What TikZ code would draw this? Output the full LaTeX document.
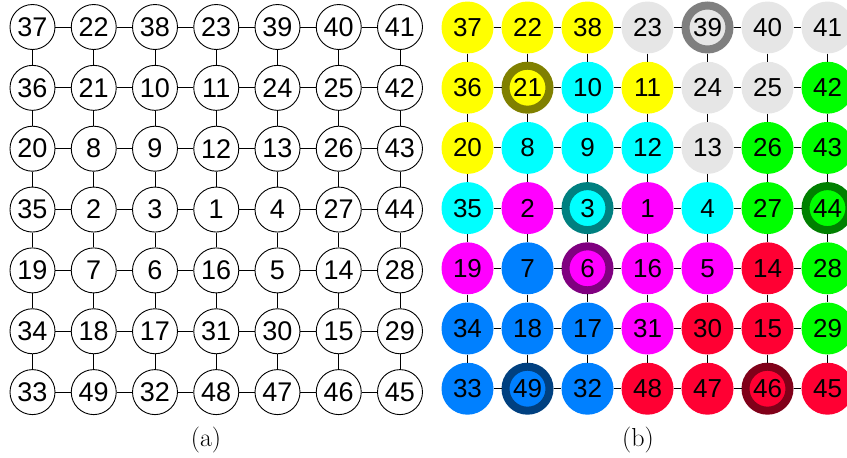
\documentclass[tikz,border=0pt]{standalone}
\usepackage{fontspec}
\newfontfamily\arialf{Liberation Sans}
\definecolor{cyel}{HTML}{FFFF00}
\definecolor{cgry}{HTML}{E6E6E6}
\definecolor{ccya}{HTML}{00FFFF}
\definecolor{cgrn}{HTML}{00FF00}
\definecolor{cmag}{HTML}{FF00FF}
\definecolor{cblu}{HTML}{0080FF}
\definecolor{cred}{HTML}{FF0033}
\definecolor{rgry}{HTML}{7F7F7F}
\definecolor{roli}{HTML}{808000}
\definecolor{rtea}{HTML}{008080}
\definecolor{rpur}{HTML}{800080}
\definecolor{rgrn}{HTML}{008000}
\definecolor{rnav}{HTML}{004080}
\definecolor{rred}{HTML}{800019}
\begin{document}
\begin{tikzpicture}[x=1pt,y=-1pt,
  lnode/.style={circle,draw=black,line width=0.9pt,fill=white,minimum size=45pt,inner sep=0pt,
    font=\arialf\fontsize{27}{27}\selectfont},
  rnode/.style={circle,minimum size=52pt,inner sep=0pt,
    font=\arialf\fontsize{26}{26}\selectfont},
  ringnode/.style={rnode,minimum size=44pt,line width=8pt},
  Y/.style={rnode,fill=cyel}, G/.style={rnode,fill=cgry}, C/.style={rnode,fill=ccya},
  N/.style={rnode,fill=cgrn}, M/.style={rnode,fill=cmag}, B/.style={rnode,fill=cblu},
  R/.style={rnode,fill=cred},
  Gr/.style={ringnode,fill=cgry,draw=rgry},
  Yr/.style={ringnode,fill=cyel,draw=roli},
  Cr/.style={ringnode,fill=ccya,draw=rtea},
  Mr/.style={ringnode,fill=cmag,draw=rpur},
  Nr/.style={ringnode,fill=cgrn,draw=rgrn},
  Br/.style={ringnode,fill=cblu,draw=rnav},
  Rr/.style={ringnode,fill=cred,draw=rred},
  edgeline/.style={line width=0.9pt,draw=black},
  caption/.style={font=\fontsize{26}{26}\selectfont}]
\useasboundingbox (0,0) rectangle (847,458);
\clip (0,0) rectangle (847,458);
% left grid
\foreach \n [count=\k from 0] in {37,22,38,23,39,40,41,
  36,21,10,11,24,25,42,
  20,8,9,12,13,26,43,
  35,2,3,1,4,27,44,
  19,7,6,16,5,14,28,
  34,18,17,31,30,15,29,
  33,49,32,48,47,46,45}{
  \pgfmathtruncatemacro\i{mod(\k,7)}
  \pgfmathtruncatemacro\j{div(\k,7)}
  \node[lnode] (L\i-\j) at ({32.5+61.25*\i},{27+60.85*\j}) {\n};
}
% right grid
\foreach \n/\s [count=\k from 0] in {37/Y,22/Y,38/Y,23/G,39/Gr,40/G,41/G,
  36/Y,21/Yr,10/C,11/Y,24/G,25/G,42/N,
  20/Y,8/C,9/C,12/C,13/G,26/N,43/N,
  35/C,2/M,3/Cr,1/M,4/C,27/N,44/Nr,
  19/M,7/B,6/Mr,16/M,5/M,14/R,28/N,
  34/B,18/B,17/B,31/M,30/R,15/R,29/N,
  33/B,49/Br,32/B,48/R,47/R,46/Rr,45/R}{
  \pgfmathtruncatemacro\i{mod(\k,7)}
  \pgfmathtruncatemacro\j{div(\k,7)}
  \node[\s] (R\i-\j) at ({467.5+60*\i},{27.5+60.2*\j}) {\n};
}
% connectors
\foreach \i in {0,...,5}{
  \pgfmathtruncatemacro\ii{\i+1}
  \foreach \j in {0,...,6}{
    \draw[edgeline] (L\i-\j) -- (L\ii-\j);
    \draw[edgeline] (R\i-\j) -- (R\ii-\j);
    \draw[edgeline] (L\j-\i) -- (L\j-\ii);
    \draw[edgeline] (R\j-\i) -- (R\j-\ii);
  }
}
\node[caption] (capa) at (206,440) {(a)};
\node[caption] (capb) at (638,440) {(b)};
\end{tikzpicture}
\end{document}
